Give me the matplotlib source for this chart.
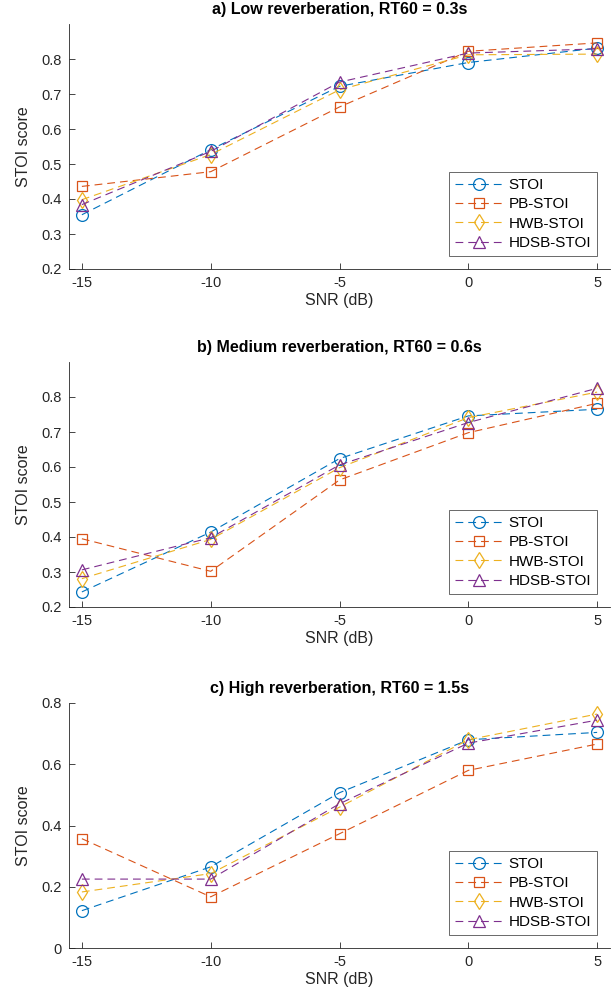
import matplotlib
matplotlib.use("Agg")
import matplotlib.pyplot as plt

snr = [-15, -10, -5, 0, 5]
series_names = ["STOI", "PB-STOI", "HWB-STOI", "HDSB-STOI"]

low_stoi = [0.355, 0.541, 0.722, 0.790, 0.831]
low_pb = [0.436, 0.478, 0.663, 0.822, 0.846]
low_hwb = [0.398, 0.527, 0.712, 0.812, 0.814]
low_hdsb = [0.384, 0.536, 0.734, 0.817, 0.829]

med_stoi = [0.243, 0.414, 0.624, 0.746, 0.765]
med_pb = [0.395, 0.302, 0.563, 0.698, 0.782]
med_hwb = [0.281, 0.393, 0.598, 0.741, 0.814]
med_hdsb = [0.306, 0.398, 0.606, 0.727, 0.825]

high_stoi = [0.122, 0.265, 0.507, 0.680, 0.704]
high_pb = [0.357, 0.167, 0.373, 0.580, 0.666]
high_hwb = [0.183, 0.243, 0.460, 0.680, 0.764]
high_hdsb = [0.225, 0.225, 0.471, 0.669, 0.744]

titles = ["a) Low reverberation, RT60 = 0.3s",
          "b) Medium reverberation, RT60 = 0.6s",
          "c) High reverberation, RT60 = 1.5s"]
panels = [[low_stoi, low_pb, low_hwb, low_hdsb],
          [med_stoi, med_pb, med_hwb, med_hdsb],
          [high_stoi, high_pb, high_hwb, high_hdsb]]
ylims = [(0.2, 0.9), (0.2, 0.9), (0.0, 0.8)]
yticks = [[0.2, 0.3, 0.4, 0.5, 0.6, 0.7, 0.8],
          [0.2, 0.3, 0.4, 0.5, 0.6, 0.7, 0.8],
          [0.0, 0.2, 0.4, 0.6, 0.8]]
ytick_labels = [["0.2", "0.3", "0.4", "0.5", "0.6", "0.7", "0.8"],
                ["0.2", "0.3", "0.4", "0.5", "0.6", "0.7", "0.8"],
                ["0", "0.2", "0.4", "0.6", "0.8"]]
xtick_labels = ["-15", "-10", "-5", "0", "5"]

colors = ["#0072BD", "#D95319", "#EDB120", "#7E2F8E"]
markers = ["o", "s", "d", "^"]
msizes = [8.5, 7, 8, 8.5]

plt.rcParams['font.family'] = ['Liberation Sans', 'DejaVu Sans']

W, H = 616, 1006
fig = plt.figure(figsize=(W / 100, H / 100), dpi=100)

# axes pixel boxes: (left, top, right, bottom)
boxes = [(69, 24, 610, 269), (69, 362, 610, 607), (69, 703, 610, 948)]

for i, (l, t, r, b) in enumerate(boxes):
    ax = fig.add_axes([l / W, 1 - b / H, (r - l) / W, (b - t) / H])
    for j, vals in enumerate(panels[i]):
        ax.plot(snr, vals, linestyle=(0, (7, 4.5)), color=colors[j], linewidth=0.8,
                marker=markers[j], markersize=msizes[j], markerfacecolor='none',
                markeredgecolor=colors[j], markeredgewidth=0.9,
                label=series_names[j])
    ax.set_xlim(-15.5, 5.5)
    ax.set_ylim(*ylims[i])
    ax.set_xticks(snr)
    ax.set_xticklabels(xtick_labels)
    ax.set_yticks(yticks[i])
    ax.set_yticklabels(ytick_labels[i])
    for s in ["top", "right"]:
        ax.spines[s].set_visible(False)
    for s in ["left", "bottom"]:
        ax.spines[s].set_color("#262626")
        ax.spines[s].set_linewidth(0.6)
    ax.tick_params(direction='in', length=4, width=0.6, colors='#262626',
                   labelsize=10.5, pad=5)
    ax.set_xlabel("SNR (dB)", fontsize=11.5, color='#262626', labelpad=2)
    ax.set_ylabel("STOI score", fontsize=11.5, color='#262626', labelpad=8)
    ax.set_title(titles[i], fontsize=11.5, fontweight='bold', pad=7)
    leg = ax.legend(loc='lower right', bbox_to_anchor=(0.976, 0.053),
                    borderaxespad=0, fontsize=11, frameon=True, fancybox=False,
                    handlelength=3.2, handletextpad=0.3, labelspacing=0.35,
                    borderpad=0.4, edgecolor='#262626')
    leg.get_frame().set_linewidth(0.6)

fig.savefig("out.png", dpi=100)
